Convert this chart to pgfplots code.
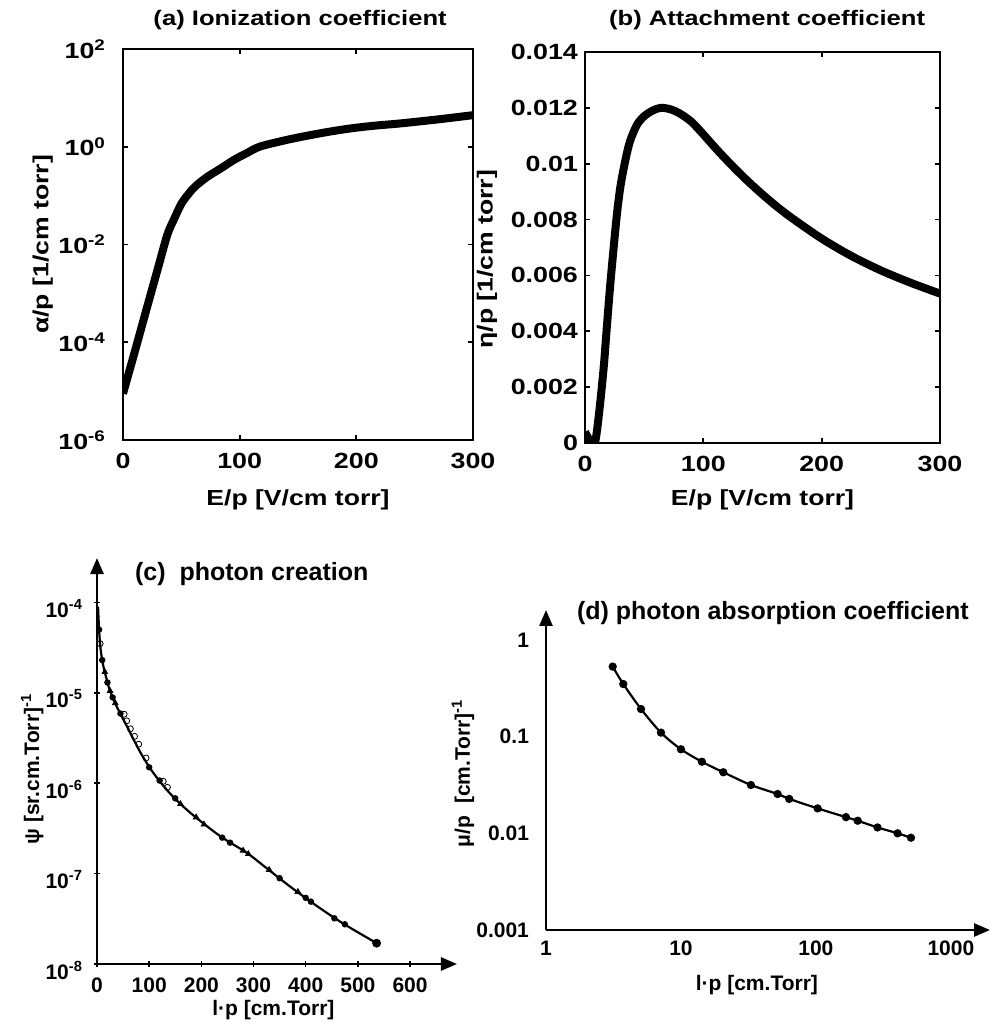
\documentclass[border=0pt]{standalone}
\usepackage{fontspec}
\newfontfamily\wsans{Liberation Sans}[FakeStretch=1.22]
\newfontfamily\nsans{Liberation Sans}
\usepackage{pgfplots}
\pgfplotsset{compat=1.18}
\usetikzlibrary{arrows.meta}
\newcommand\fa{\wsans\bfseries\fontsize{11}{13}\selectfont}
\newcommand\fal{\wsans\bfseries\fontsize{10.9}{13}\selectfont}
\newcommand\fat{\wsans\bfseries\fontsize{10.5}{12.5}\selectfont}
\newcommand\fc{\nsans\bfseries\fontsize{10.5}{12.5}\selectfont}
\newcommand\fct{\nsans\bfseries\fontsize{12.5}{14.5}\selectfont}

\pgfplotsset{
  every axis title shift=0pt,
  boxstyle/.style={scale only axis, anchor=south west,
    tick align=inside, major tick length=2.5pt,
    axis line style={line width=1.1pt}, every tick/.style={black, line width=0.9pt},
    tick label style={font=\fa}, label style={font=\fal}, title style={font=\fat},
    xticklabel style={yshift=-3pt}},
  arrowstyle/.style={scale only axis, anchor=south west, axis lines=left,
    axis line style={line width=1.3pt, -{Triangle[length=8pt,width=6.5pt]}},
    tick align=center, major tick length=3pt, every tick/.style={black, line width=0.8pt},
    xminorticks=false, yminorticks=false,
    tick label style={font=\fc}, label style={font=\fc}, title style={font=\fct}},
}

\begin{document}
\begin{tikzpicture}
\useasboundingbox (0,0) rectangle (496pt,515pt);

% (a)
\begin{axis}[boxstyle, at={(61.5pt,295pt)}, width=175pt, height=195.5pt,
  xmin=0, xmax=300, ymode=log, ymin=1e-6, ymax=1e2,
  xtick={0,100,200,300}, xticklabels={0,100,200,300},
  ytick={1e-6,1e-4,1e-2,1,1e2},
  yticklabels={10\textsuperscript{-6},10\textsuperscript{-4},10\textsuperscript{-2},10\textsuperscript{0},10\textsuperscript{2}},
  yminorticks=false, yticklabel style={xshift=-5pt},
  xlabel={E/p [V/cm torr]}, ylabel={α/p [1/cm torr]},
  xlabel style={at={(axis description cs:0.5,-0.153)}, anchor=center},
  ylabel style={at={(axis description cs:-0.229,0.5)}, anchor=center},
  title={(a) Ionization coefficient},
  title style={at={(axis description cs:0.506,1.074)}, anchor=center}]
\addplot[line width=4pt, black, smooth] coordinates {
  (0,8.9e-6)(10,6.3e-5)(20,4.6e-4)(30,3.3e-3)(38,1.58e-2)(44,3.4e-2)
  (50,6.8e-2)(56,0.107)(62,0.155)(72,0.24)(84,0.363)(95,0.537)(106,0.74)
  (117,1.0)(135,1.29)(152,1.58)(175,2.0)(195,2.37)(215,2.69)(237,2.99)
  (270,3.63)(300,4.43)
};
\end{axis}

% (b)
\begin{axis}[boxstyle, at={(292.5pt,293.5pt)}, width=177.5pt, height=195.5pt,
  xmin=0, xmax=300, ymin=0, ymax=0.014,
  xtick={0,100,200,300}, xticklabels={0,100,200,300},
  ytick={0,0.002,0.004,0.006,0.008,0.01,0.012,0.014},
  yticklabels={0,0.002,0.004,0.006,0.008,0.01,0.012,0.014},
  scaled y ticks=false,
  xlabel={E/p [V/cm torr]}, ylabel={η/p [1/cm torr]},
  xlabel style={at={(axis description cs:0.5,-0.146)}, anchor=center},
  ylabel style={at={(axis description cs:-0.276,0.47)}, anchor=center},
  title={(b) Attachment coefficient},
  title style={at={(axis description cs:0.513,1.082)}, anchor=center}]
\addplot[line width=4pt, black, smooth] coordinates {
  (0,0.0004)(4,0.0001)(8,0)(10,0.0004)(13,0.0015)(16,0.0028)(18,0.0039)
  (21,0.0055)(24,0.0069)(27,0.0082)(30,0.0092)(34,0.0101)(38,0.0108)
  (44,0.0114)(50,0.0117)(57,0.0119)(64,0.0120)(72,0.01195)(80,0.0118)
  (90,0.0115)(100,0.01105)(112,0.01048)(125,0.0099)(137,0.0094)
  (150,0.0089)(162,0.00847)(175,0.00805)(200,0.00732)(225,0.0067)
  (250,0.00618)(275,0.00574)(300,0.00535)
};
\end{axis}

% (c)
\begin{axis}[arrowstyle, at={(48.5pt,33pt)}, width=180pt, height=203pt,
  xmin=0, xmax=690, ymode=log, ymin=1e-8, ymax=3.1e-4,
  xtick={0,100,200,300,400,500,600}, xticklabels={0,100,200,300,400,500,600},
  ytick={1e-8,1e-7,1e-6,1e-5,1e-4},
  yticklabels={10\textsuperscript{-8},10\textsuperscript{-7},10\textsuperscript{-6},10\textsuperscript{-5},10\textsuperscript{-4}},
  yticklabel style={xshift=-2pt, yshift=-3pt},
  xticklabel style={yshift=-2pt},
  xlabel={l·p [cm.Torr]}, ylabel={ψ [sr.cm.Torr]\textsuperscript{-1}},
  xlabel style={at={(axis description cs:0.49,-0.113)}, anchor=center},
  ylabel style={at={(axis description cs:-0.18,0.48)}, anchor=center},
  title={(c)\ \ photon creation},
  title style={at={(axis description cs:0.43,0.96)}, anchor=center}]
\addplot[line width=1.1pt, black, smooth] coordinates {
  (2,9e-5)(4,5e-5)(7,3e-5)(12,2e-5)(18,1.45e-5)(25,1.05e-5)(38,7e-6)
  (57,4.3e-6)(83,2.2e-6)(108,1.3e-6)(140,7.7e-7)(179,4.7e-7)(236,2.6e-7)
  (287,1.7e-7)(325,1.15e-7)(370,7.2e-8)(421,4.4e-8)(472,2.8e-8)(536,1.7e-8)
};
\addplot[only marks, mark=*, mark size=1.4pt, black] coordinates {
  (4,5e-5)(10,2.3e-5)(20,1.3e-5)(30,8.9e-6)(45,5.9e-6)(100,1.5e-6)
  (120,1.07e-6)(150,6.8e-7)(240,2.5e-7)(255,2.2e-7)(350,8.9e-8)(400,5.4e-8)
  (410,4.9e-8)(455,3.2e-8)(475,2.75e-8)
};
\addplot[only marks, mark=*, mark size=2pt, black] coordinates {(536,1.7e-8)};
\addplot[only marks, mark=o, mark size=1.5pt, black] coordinates {
  (52,5.8e-6)(57,4.9e-6)(64,4.0e-6)(72,3.3e-6)(80,2.7e-6)(94,1.9e-6)
  (127,1.05e-6)(135,9.0e-7)(6,3.5e-5)
};
\addplot[only marks, mark=triangle*, mark size=1.6pt, black] coordinates {
  (15,1.7e-5)(25,1.05e-5)(35,7.7e-6)(160,5.9e-7)(190,4.2e-7)(205,3.5e-7)
  (280,1.8e-7)(290,1.65e-7)(330,1.1e-7)(385,6.3e-8)
};
\end{axis}

% (d)
\begin{axis}[arrowstyle, at={(273pt,50pt)}, width=222pt, height=160pt,
  xmode=log, ymode=log, xmin=1, xmax=1950, ymin=0.001, ymax=2.04,
  xtick={1,10,100,1000}, xticklabels={1,10,100,1000},
  ytick={0.001,0.01,0.1,1}, yticklabels={0.001,0.01,0.1,1},
  major tick length=0pt,
  yticklabel style={xshift=-5pt}, xticklabel style={yshift=-2pt},
  xlabel={l·p [cm.Torr]}, ylabel={μ/p\ \ [cm.Torr]\textsuperscript{-1}},
  xlabel style={at={(axis description cs:0.475,-0.172)}, anchor=center},
  ylabel style={at={(axis description cs:-0.187,0.49)}, anchor=center},
  title={(d) photon absorption coefficient},
  title style={at={(axis description cs:0.511,0.99)}, anchor=center}]
\addplot[line width=1.1pt, black, smooth, mark=*, mark size=1.5pt] coordinates {
  (3.12,0.53)(3.74,0.35)(5.06,0.193)(7.11,0.11)(10,0.074)(14.3,0.055)
  (20.6,0.0428)(33,0.0316)(52,0.0255)(63.4,0.0227)(103,0.0181)(167,0.0147)
  (204,0.0135)(286,0.0115)(403,0.0100)(506,0.0090)
};
\end{axis}
\end{tikzpicture}
\end{document}
